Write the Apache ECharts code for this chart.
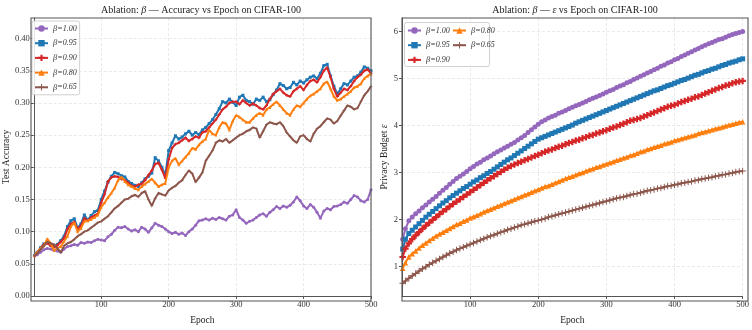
<!DOCTYPE html>
<html><head><meta charset="utf-8">
<script src="https://cdn.jsdelivr.net/npm/echarts@6/dist/echarts.min.js"></script>
<style>html,body{margin:0;padding:0;background:#fff}#c{width:752px;height:330px}</style>
</head><body><div id="c"></div>
<script>
const seriesNames = ['β=1.00', 'β=0.95', 'β=0.90', 'β=0.80', 'β=0.65'];
const seriesColors = ['#9467bd', '#1f77b4', '#d62728', '#ff7f0e', '#8c564b'];

// epochs sampled: 1, 5, 10, ..., 500
const epochs = [1];
for (let e = 5; e <= 500; e += 5) epochs.push(e);

// ---- Test accuracy (left panel) ----
const acc100 = [0.062,
 0.064,0.068,0.072,0.074,0.073,0.071,0.070,0.068,0.073,0.077,
 0.078,0.080,0.079,0.083,0.082,0.084,0.083,0.086,0.088,0.087,
 0.086,0.092,0.096,0.102,0.107,0.106,0.108,0.104,0.101,0.103,
 0.100,0.107,0.104,0.099,0.106,0.113,0.110,0.108,0.104,0.100,
 0.097,0.099,0.096,0.098,0.094,0.100,0.104,0.110,0.117,0.118,
 0.120,0.118,0.121,0.119,0.122,0.120,0.118,0.124,0.126,0.134,
 0.122,0.118,0.113,0.116,0.118,0.122,0.126,0.128,0.124,0.130,
 0.134,0.139,0.136,0.140,0.138,0.141,0.146,0.154,0.148,0.140,
 0.136,0.142,0.138,0.130,0.121,0.132,0.136,0.134,0.139,0.140,
 0.142,0.146,0.144,0.150,0.156,0.154,0.148,0.146,0.150,0.165];
const acc95 = [0.063,
 0.068,0.075,0.081,0.083,0.079,0.077,0.080,0.086,0.093,0.108,
 0.117,0.120,0.106,0.112,0.126,0.118,0.125,0.131,0.133,0.150,
 0.163,0.177,0.186,0.192,0.190,0.187,0.185,0.178,0.175,0.172,
 0.170,0.176,0.182,0.186,0.191,0.215,0.210,0.200,0.188,0.226,
 0.238,0.249,0.244,0.247,0.252,0.256,0.250,0.254,0.251,0.258,
 0.262,0.268,0.274,0.282,0.291,0.302,0.300,0.306,0.301,0.296,
 0.309,0.312,0.304,0.302,0.298,0.306,0.304,0.309,0.302,0.305,
 0.313,0.320,0.330,0.327,0.322,0.324,0.332,0.328,0.334,0.331,
 0.336,0.340,0.342,0.338,0.346,0.358,0.360,0.342,0.326,0.314,
 0.322,0.330,0.328,0.334,0.340,0.342,0.348,0.356,0.354,0.350];
const acc90 = [0.062,
 0.067,0.074,0.080,0.082,0.078,0.076,0.079,0.084,0.090,0.104,
 0.112,0.115,0.104,0.109,0.121,0.117,0.122,0.125,0.128,0.145,
 0.158,0.178,0.184,0.186,0.185,0.182,0.180,0.176,0.171,0.170,
 0.173,0.174,0.180,0.188,0.195,0.205,0.207,0.196,0.183,0.212,
 0.230,0.236,0.238,0.242,0.246,0.241,0.244,0.248,0.246,0.254,
 0.256,0.262,0.268,0.274,0.282,0.290,0.294,0.300,0.302,0.302,
 0.298,0.304,0.300,0.296,0.299,0.296,0.292,0.290,0.296,0.306,
 0.314,0.318,0.322,0.316,0.312,0.310,0.318,0.322,0.326,0.320,
 0.328,0.334,0.336,0.332,0.340,0.350,0.355,0.340,0.322,0.310,
 0.316,0.322,0.320,0.326,0.334,0.340,0.344,0.350,0.352,0.346];
const acc80 = [0.063,
 0.068,0.074,0.078,0.089,0.082,0.071,0.074,0.077,0.085,0.093,
 0.108,0.114,0.100,0.105,0.116,0.117,0.119,0.122,0.126,0.138,
 0.145,0.153,0.160,0.168,0.180,0.185,0.178,0.173,0.170,0.167,
 0.165,0.170,0.174,0.178,0.182,0.176,0.170,0.173,0.175,0.200,
 0.210,0.214,0.204,0.210,0.216,0.222,0.230,0.228,0.235,0.240,
 0.244,0.258,0.252,0.250,0.262,0.270,0.268,0.258,0.272,0.281,
 0.278,0.274,0.270,0.270,0.276,0.281,0.284,0.281,0.290,0.293,
 0.298,0.302,0.296,0.290,0.284,0.281,0.290,0.296,0.294,0.300,
 0.306,0.311,0.314,0.318,0.322,0.330,0.333,0.322,0.310,0.304,
 0.306,0.310,0.314,0.318,0.324,0.326,0.330,0.338,0.342,0.345];
const acc65 = [0.062,
 0.066,0.072,0.078,0.084,0.082,0.080,0.074,0.068,0.078,0.082,
 0.084,0.088,0.093,0.096,0.100,0.102,0.106,0.110,0.114,0.116,
 0.120,0.124,0.130,0.136,0.140,0.145,0.150,0.151,0.155,0.157,
 0.154,0.160,0.163,0.150,0.140,0.152,0.160,0.158,0.156,0.164,
 0.168,0.171,0.176,0.180,0.188,0.195,0.190,0.177,0.184,0.192,
 0.210,0.218,0.226,0.238,0.242,0.240,0.244,0.238,0.242,0.246,
 0.250,0.252,0.256,0.258,0.262,0.260,0.246,0.256,0.266,0.270,
 0.268,0.267,0.270,0.264,0.254,0.248,0.242,0.238,0.248,0.250,
 0.244,0.240,0.252,0.260,0.264,0.270,0.276,0.274,0.268,0.272,
 0.280,0.288,0.296,0.294,0.290,0.292,0.302,0.312,0.318,0.326];

// ---- Privacy budget epsilon (right panel) ----
const eps100 = [1.58,
 1.80,1.97,2.05,2.12,2.18,2.25,2.31,2.37,2.43,2.49,
 2.56,2.62,2.68,2.75,2.81,2.87,2.92,2.97,3.02,3.08,
 3.13,3.18,3.22,3.27,3.31,3.35,3.40,3.44,3.48,3.52,
 3.56,3.60,3.64,3.69,3.74,3.79,3.85,3.91,3.97,4.03,
 4.08,4.12,4.16,4.19,4.22,4.26,4.29,4.32,4.36,4.39,
 4.42,4.45,4.48,4.51,4.55,4.58,4.61,4.64,4.67,4.71,
 4.74,4.77,4.81,4.84,4.87,4.91,4.94,4.98,5.01,5.05,
 5.08,5.12,5.15,5.19,5.22,5.26,5.29,5.33,5.36,5.40,
 5.43,5.47,5.50,5.54,5.57,5.61,5.64,5.68,5.71,5.74,
 5.77,5.80,5.83,5.85,5.88,5.91,5.94,5.96,5.98,6.00];
const eps95 = [1.37,
 1.58,1.70,1.77,1.84,1.91,1.98,2.05,2.11,2.17,2.23,
 2.29,2.35,2.40,2.46,2.51,2.56,2.61,2.66,2.70,2.75,
 2.80,2.84,2.89,2.93,2.98,3.02,3.07,3.12,3.17,3.22,
 3.27,3.31,3.36,3.41,3.46,3.51,3.56,3.61,3.66,3.71,
 3.74,3.77,3.80,3.83,3.86,3.89,3.92,3.95,3.98,4.01,
 4.05,4.08,4.11,4.14,4.17,4.20,4.23,4.26,4.29,4.32,
 4.35,4.38,4.41,4.44,4.47,4.50,4.53,4.56,4.59,4.62,
 4.65,4.68,4.71,4.74,4.76,4.79,4.82,4.85,4.87,4.90,
 4.93,4.96,4.98,5.01,5.04,5.07,5.09,5.12,5.15,5.17,
 5.20,5.22,5.25,5.28,5.30,5.33,5.35,5.37,5.40,5.42];
const eps90 = [1.20,
 1.38,1.49,1.58,1.66,1.73,1.80,1.87,1.93,1.99,2.05,
 2.11,2.17,2.22,2.28,2.33,2.38,2.43,2.48,2.53,2.58,
 2.63,2.68,2.73,2.78,2.83,2.88,2.92,2.97,3.01,3.06,
 3.10,3.14,3.17,3.20,3.23,3.26,3.29,3.32,3.35,3.38,
 3.41,3.44,3.47,3.49,3.52,3.55,3.57,3.60,3.63,3.65,
 3.68,3.70,3.73,3.75,3.78,3.80,3.83,3.85,3.88,3.90,
 3.93,3.96,3.98,4.01,4.04,4.07,4.10,4.12,4.14,4.16,
 4.19,4.22,4.25,4.28,4.31,4.34,4.37,4.40,4.42,4.44,
 4.47,4.50,4.52,4.55,4.57,4.60,4.62,4.65,4.68,4.71,
 4.74,4.77,4.80,4.82,4.85,4.87,4.90,4.92,4.94,4.95];
const eps80 = [0.96,
 1.08,1.20,1.27,1.33,1.39,1.45,1.50,1.55,1.60,1.65,
 1.69,1.73,1.77,1.81,1.85,1.89,1.92,1.96,1.99,2.03,
 2.06,2.09,2.12,2.16,2.19,2.22,2.25,2.28,2.31,2.34,
 2.37,2.40,2.43,2.46,2.49,2.52,2.55,2.58,2.61,2.64,
 2.67,2.70,2.72,2.75,2.78,2.81,2.84,2.87,2.90,2.92,
 2.95,2.98,3.00,3.03,3.06,3.08,3.11,3.13,3.16,3.18,
 3.21,3.23,3.26,3.28,3.31,3.33,3.36,3.38,3.41,3.44,
 3.46,3.49,3.51,3.54,3.56,3.58,3.61,3.63,3.65,3.68,
 3.70,3.72,3.74,3.76,3.78,3.80,3.83,3.85,3.87,3.89,
 3.91,3.93,3.95,3.97,3.99,4.01,4.03,4.05,4.07,4.08];
const eps65 = [0.64,
 0.69,0.75,0.80,0.85,0.90,0.95,0.99,1.04,1.08,1.12,
 1.16,1.20,1.24,1.28,1.31,1.35,1.38,1.41,1.44,1.47,
 1.50,1.53,1.56,1.59,1.62,1.65,1.67,1.70,1.73,1.75,
 1.78,1.80,1.83,1.85,1.88,1.90,1.92,1.94,1.96,1.98,
 2.00,2.02,2.05,2.07,2.09,2.11,2.13,2.15,2.17,2.19,
 2.21,2.23,2.25,2.27,2.29,2.31,2.33,2.35,2.37,2.39,
 2.41,2.43,2.45,2.47,2.48,2.50,2.52,2.54,2.55,2.57,
 2.59,2.61,2.62,2.64,2.66,2.67,2.69,2.71,2.72,2.74,
 2.75,2.77,2.78,2.80,2.81,2.83,2.84,2.86,2.87,2.89,
 2.90,2.92,2.93,2.95,2.96,2.98,2.99,3.01,3.02,3.03];

const epochTicks = [100, 200, 300, 400, 500];
const accTicks = [0, 0.05, 0.10, 0.15, 0.20, 0.25, 0.30, 0.35, 0.40];
const epsTicks = [1, 2, 3, 4, 5, 6];

const accSeries = [acc100, acc95, acc90, acc80, acc65];
const epsSeries = [eps100, eps95, eps90, eps80, eps65];

const SERIF = "'Liberation Serif', 'DejaVu Serif', serif";
const symbols = [
  'circle',
  'rect',
  'path://M2,0H4V2H6V4H4V6H2V4H0V2H2Z',
  'triangle',
  'path://M2.55,0H3.45V2.55H6V3.45H3.45V6H2.55V3.45H0V2.55H2.55Z'
];
const symSizeR = [5, 5, 6.5, 5.5, 6.5];

const chart = echarts.init(document.getElementById('c'), null, {renderer: 'canvas'});

function pairs(arr) { return arr.map((v, k) => [epochs[k], v]); }

const series = [];
accSeries.forEach((arr, i) => {
  series.push({
    name: seriesNames[i], type: 'line', xAxisIndex: 0, yAxisIndex: 0,
    data: pairs(arr), color: seriesColors[i],
    symbol: symbols[i], symbolSize: 3, symbolKeepAspect: true, showSymbol: true,
    lineStyle: {width: 2}, animation: false, z: 2 + i
  });
});
epsSeries.forEach((arr, i) => {
  series.push({
    name: seriesNames[i], type: 'line', xAxisIndex: 1, yAxisIndex: 1,
    data: pairs(arr), color: seriesColors[i],
    symbol: symbols[i], symbolSize: symSizeR[i], symbolKeepAspect: true, showSymbol: true,
    lineStyle: {width: 2}, animation: false, z: 2 + i
  });
});

const axisCommonX = (gi) => ({
  type: 'value', gridIndex: gi, min: 0, max: 500, interval: 100,
  name: 'Epoch', nameLocation: 'middle', nameGap: 19,
  nameTextStyle: {fontFamily: SERIF, fontSize: 9.5, color: '#222'},
  axisLine: {show: true, lineStyle: {color: '#555', width: 1}},
  axisTick: {show: true, length: 3, customValues: epochTicks, lineStyle: {color: '#555'}},
  axisLabel: {customValues: epochTicks, fontFamily: SERIF, fontSize: 8.5, color: '#333', margin: 4},
  splitLine: {show: true, lineStyle: {color: '#e4e4e4', type: [3, 2], width: 0.8}}
});

const legendText = {
  fontFamily: SERIF, fontSize: 8, color: '#333',
  rich: {
    i: {fontFamily: SERIF, fontStyle: 'italic', fontSize: 8.5, color: '#333'},
    n: {fontFamily: SERIF, fontStyle: 'italic', fontSize: 8, color: '#333'}
  }
};
const legendFmt = (name) => '{i|β}{n|' + name.slice(1) + '}';

const titleRich = {
  t: {fontFamily: SERIF, fontSize: 10, fill: '#222'},
  i: {fontFamily: SERIF, fontSize: 10, fontStyle: 'italic', fill: '#222'}
};

const option = {
  backgroundColor: '#fff',
  animation: false,
  grid: [
    {left: 31, top: 18, width: 340, height: 283, show: false},
    {left: 402, top: 18, width: 346, height: 283, show: false}
  ],
  graphic: [
    {type: 'text', x: 201, y: 10, style: {text: '{t|Ablation: }{i|β}{t| — Accuracy vs Epoch on CIFAR-100}', rich: titleRich, align: 'center', verticalAlign: 'middle'}},
    {type: 'text', x: 575, y: 10, style: {text: '{t|Ablation: }{i|β}{t| — }{i|ε}{t| vs Epoch on CIFAR-100}', rich: titleRich, align: 'center', verticalAlign: 'middle'}},
    {type: 'rect', shape: {x: 404.5, y: 22.5, width: 85, height: 44, r: 2}, style: {fill: 'rgba(255,255,255,0.85)', stroke: '#d0d0d0', lineWidth: 1}, z: 50},
    {type: 'rect', shape: {x: 31, y: 18, width: 340, height: 283}, style: {fill: 'none', stroke: '#555', lineWidth: 1.1}, z: 100},
    {type: 'rect', shape: {x: 402, y: 18, width: 346, height: 283}, style: {fill: 'none', stroke: '#555', lineWidth: 1.1}, z: 100}
  ],
  legend: [
    {data: seriesNames, orient: 'vertical', left: 32, top: 21, padding: [3, 3, 3, 2],
     itemWidth: 13, itemHeight: 8, itemGap: 5.7, itemTextGap: 2,
     backgroundColor: 'rgba(255,255,255,0.85)', borderColor: '#d0d0d0', borderWidth: 1, borderRadius: 2,
     textStyle: legendText, formatter: legendFmt, z: 60},
    {data: seriesNames.slice(0, 3), orient: 'vertical', left: 405, top: 24, padding: [2, 2, 2, 2],
     itemWidth: 13, itemHeight: 8, itemGap: 5.7, itemTextGap: 2,
     textStyle: legendText, formatter: legendFmt, z: 60},
    {data: seriesNames.slice(3), orient: 'vertical', left: 450, top: 24, padding: [2, 2, 2, 2],
     itemWidth: 13, itemHeight: 8, itemGap: 5.7, itemTextGap: 2,
     textStyle: legendText, formatter: legendFmt, z: 60}
  ],
  xAxis: [axisCommonX(0), axisCommonX(1)],
  yAxis: [
    {type: 'value', gridIndex: 0, min: 0, max: 0.432, interval: 0.05,
     name: 'Test Accuracy', nameLocation: 'middle', nameGap: 18,
     nameTextStyle: {fontFamily: SERIF, fontSize: 9.5, color: '#222'},
     axisLine: {show: true, lineStyle: {color: '#555'}},
     axisTick: {show: true, length: 3, customValues: accTicks, lineStyle: {color: '#555'}},
     axisLabel: {customValues: accTicks, formatter: (v) => v.toFixed(2), fontFamily: SERIF, fontSize: 8.5, color: '#333', margin: 4},
     splitLine: {show: true, lineStyle: {color: '#e4e4e4', type: [3, 2], width: 0.8}}},
    {type: 'value', gridIndex: 1, min: 0.37, max: 6.29,
     name: 'Privacy Budget {i|ε}', nameLocation: 'middle', nameGap: 7,
     nameTextStyle: {fontFamily: SERIF, fontSize: 9.5, color: '#222', rich: {i: {fontFamily: SERIF, fontSize: 9.5, fontStyle: 'italic', color: '#222'}}},
     axisLine: {show: true, lineStyle: {color: '#555'}},
     axisTick: {show: true, length: 3, customValues: epsTicks, lineStyle: {color: '#555'}},
     axisLabel: {customValues: epsTicks, formatter: (v) => String(v), fontFamily: SERIF, fontSize: 8.5, color: '#333', margin: 4},
     splitLine: {show: true, lineStyle: {color: '#e4e4e4', type: [3, 2], width: 0.8}}}
  ],
  series: series
};
chart.setOption(option);
</script>
</body></html>
